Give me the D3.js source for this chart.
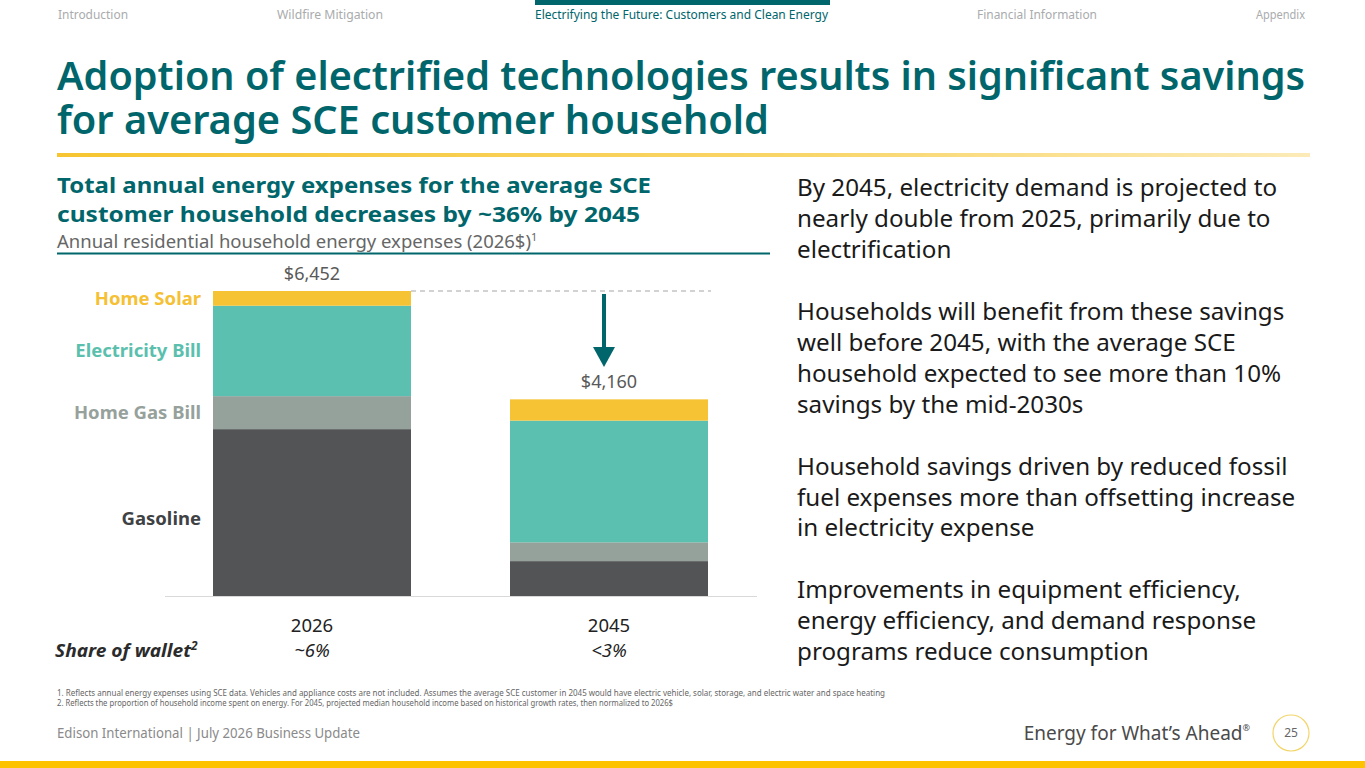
<!DOCTYPE html>
<html><head><meta charset="utf-8">
<script src="https://cdn.jsdelivr.net/npm/d3@7"></script>
<style>
html,body{margin:0;padding:0;background:#fff;}
svg{display:block;font-family:"Noto Sans","Open Sans",sans-serif;}
</style></head>
<body>
<svg id="c" width="1365" height="768"></svg>
<script>
// ---- data ----
const years = ["2026", "2045"];
const categories = ["Gasoline", "Home Gas Bill", "Electricity Bill", "Home Solar"];
const gasoline = [3530, 738];
const homeGas = [698, 398];
const electricity = [1913, 2574];
const homeSolar = [311, 450];
const totals = ["$6,452", "$4,160"];
const shareOfWallet = ["~6%", "<3%"];
const colors = ["#525456", "#95A19B", "#5CC0B0", "#F6C334"];
const labelColors = ["#3F4244", "#96A19C", "#5BBFAE", "#F5C033"];

const navItems = ["Introduction", "Wildfire Mitigation", "Electrifying the Future: Customers and Clean Energy", "Financial Information", "Appendix"];
const paragraphs = [
  ["By 2045, electricity demand is projected to", "nearly double from 2025, primarily due to", "electrification"],
  ["Households will benefit from these savings", "well before 2045, with the average SCE", "household expected to see more than 10%", "savings by the mid-2030s"],
  ["Household savings driven by reduced fossil", "fuel expenses more than offsetting increase", "in electricity expense"],
  ["Improvements in equipment efficiency,", "energy efficiency, and demand response", "programs reduce consumption"]
];

const svg = d3.select("#c");
const teal = "#00666B";

// ---- nav ----
const navX = [58, 277, 535, 977, 1256];
const navW = [70, 106, 293, 120, 49];
navItems.forEach((t, i) => {
  svg.append("text").attr("x", navX[i]).attr("y", 19)
    .attr("font-size", 12).attr("fill", i === 2 ? teal : "#A9ABAD")
    .attr("textLength", navW[i]).attr("lengthAdjust", "spacingAndGlyphs").text(t);
});
svg.append("rect").attr("x", 535).attr("y", 0).attr("width", 295).attr("height", 5).attr("fill", teal);

// ---- title ----
const titleLines = ["Adoption of electrified technologies results in significant savings", "for average SCE customer household"];
const title = svg.append("text").attr("font-size", 40).attr("font-weight", 600).attr("fill", teal);
title.append("tspan").attr("x", 57).attr("y", 90).attr("textLength", 1248).attr("lengthAdjust", "spacingAndGlyphs").text(titleLines[0]);
title.append("tspan").attr("x", 57).attr("y", 134).attr("textLength", 712).attr("lengthAdjust", "spacingAndGlyphs").text(titleLines[1]);

const defs = svg.append("defs");
const g = defs.append("linearGradient").attr("id", "yg").attr("x1", "0").attr("x2", "1");
g.append("stop").attr("offset", "0").attr("stop-color", "#F7C531");
g.append("stop").attr("offset", "0.6").attr("stop-color", "#F9D66A");
g.append("stop").attr("offset", "1").attr("stop-color", "#FCEBB8");
svg.append("rect").attr("x", 57).attr("y", 153).attr("width", 1253).attr("height", 4).attr("fill", "url(#yg)");

// ---- chart subtitle ----
svg.append("text").attr("x", 57).attr("y", 193).attr("font-size", 22).attr("font-weight", 700).attr("fill", teal)
  .attr("textLength", 594).attr("lengthAdjust", "spacingAndGlyphs").text("Total annual energy expenses for the average SCE");
svg.append("text").attr("x", 57).attr("y", 222).attr("font-size", 22).attr("font-weight", 700).attr("fill", teal)
  .attr("textLength", 583).attr("lengthAdjust", "spacingAndGlyphs").text("customer household decreases by ~36% by 2045");
const sub = svg.append("text").attr("x", 57).attr("y", 248).attr("font-size", 18).attr("fill", "#666");
sub.append("tspan").attr("textLength", 474).attr("lengthAdjust", "spacingAndGlyphs").text("Annual residential household energy expenses (2026$)");
sub.append("tspan").attr("font-size", 11).attr("dy", -7).text("1");
svg.append("line").attr("x1", 57).attr("x2", 770).attr("y1", 253.5).attr("y2", 253.5).attr("stroke", teal).attr("stroke-width", 2);

// ---- chart ----
const x = d3.scaleBand().domain(years).range([213, 708]).paddingInner(1 / 3).paddingOuter(0);
const y = d3.scaleLinear().domain([0, 6452]).range([596, 291]);

const rows = years.map((yr, i) => ({year: yr, Gasoline: gasoline[i], "Home Gas Bill": homeGas[i], "Electricity Bill": electricity[i], "Home Solar": homeSolar[i]}));
const stack = d3.stack().keys(categories)(rows);

svg.append("line").attr("x1", 165).attr("x2", 757).attr("y1", 596.5).attr("y2", 596.5).attr("stroke", "#D9D9D9").attr("stroke-width", 1);

stack.forEach((layer, li) => {
  svg.append("g").selectAll("rect").data(layer).join("rect")
    .attr("x", d => x(d.data.year)).attr("width", x.bandwidth())
    .attr("y", d => y(d[1])).attr("height", d => y(d[0]) - y(d[1]))
    .attr("fill", colors[li]);
});

// totals
const topLayer = stack[stack.length - 1];
svg.append("g").selectAll("text").data(topLayer).join("text")
  .attr("x", d => x(d.data.year) + x.bandwidth() / 2).attr("y", d => y(d[1]) - 11)
  .attr("text-anchor", "middle").attr("font-size", 18).attr("fill", "#595959")
  .text((d, i) => totals[i]);

// dashed reference line
svg.append("line").attr("x1", x("2026") + x.bandwidth()).attr("x2", x("2045") + x.bandwidth() + 3)
  .attr("y1", y(topLayer[0][1])).attr("y2", y(topLayer[0][1]))
  .attr("stroke", "#A6A6A6").attr("stroke-dasharray", "5,4").attr("stroke-width", 1.2);

// arrow
const ax = 604;
svg.append("line").attr("x1", ax).attr("x2", ax).attr("y1", 294).attr("y2", 350).attr("stroke", teal).attr("stroke-width", 4);
svg.append("path").attr("d", `M${ax - 11},347 L${ax + 11},347 L${ax},367 Z`).attr("fill", teal);

// category labels (at the 2026 segments)
stack.forEach((layer, li) => {
  const d = layer[0];
  let cy = (y(d[0]) + y(d[1])) / 2;
  if (li === 0) cy += 6;
  svg.append("text").attr("x", 201).attr("y", cy).attr("dy", "0.35em")
    .attr("text-anchor", "end").attr("font-size", 18.5).attr("font-weight", 700)
    .attr("fill", labelColors[li]).text(categories[li]);
});

// year axis
svg.append("g").selectAll("text").data(years).join("text")
  .attr("x", d => x(d) + x.bandwidth() / 2).attr("y", 632)
  .attr("text-anchor", "middle").attr("font-size", 18.5).attr("fill", "#222").text(d => d);
svg.append("g").selectAll("text").data(years).join("text")
  .attr("x", d => x(d) + x.bandwidth() / 2).attr("y", 657)
  .attr("text-anchor", "middle").attr("font-size", 18.5).attr("font-style", "italic").attr("fill", "#222")
  .text((d, i) => shareOfWallet[i]);
const sw = svg.append("text").attr("x", 55).attr("y", 657).attr("font-size", 18.5).attr("font-weight", 700)
  .attr("font-style", "italic").attr("fill", "#2b2b2b");
sw.append("tspan").attr("textLength", 136).attr("lengthAdjust", "spacingAndGlyphs").text("Share of wallet");
sw.append("tspan").attr("font-size", 12).attr("dy", -7).text("2");

// ---- right text ----
let ly = 196;
paragraphs.forEach(p => {
  p.forEach(line => {
    svg.append("text").attr("x", 797).attr("y", ly).attr("font-size", 24.2).attr("fill", "#1a1a1a").text(line);
    ly += 30.95;
  });
  ly += 30.95;
});

// ---- footnotes ----
svg.append("text").attr("x", 57).attr("y", 696).attr("font-size", 8).attr("fill", "#666")
  .attr("textLength", 828).attr("lengthAdjust", "spacingAndGlyphs")
  .text("1.   Reflects annual energy expenses using SCE data. Vehicles and appliance costs are not included. Assumes the average SCE customer in 2045 would have electric vehicle, solar, storage, and electric water and space heating");
svg.append("text").attr("x", 57).attr("y", 706).attr("font-size", 8).attr("fill", "#666")
  .attr("textLength", 616).attr("lengthAdjust", "spacingAndGlyphs")
  .text("2.   Reflects the proportion of household income spent on energy. For 2045, projected median household income based on historical growth rates, then normalized to 2026$");

// ---- footer ----
svg.append("text").attr("x", 57).attr("y", 738).attr("font-size", 14).attr("fill", "#8A8A8A")
  .attr("textLength", 303).attr("lengthAdjust", "spacingAndGlyphs").text("Edison International |  July 2026 Business Update");
const ef = svg.append("text").attr("x", 1250).attr("y", 740).attr("text-anchor", "end").attr("font-size", 19).attr("fill", "#4A4A4A");
ef.append("tspan").text("Energy for What’s Ahead");
ef.append("tspan").attr("font-size", 9).attr("dy", -9).text("®");
svg.append("circle").attr("cx", 1291).attr("cy", 733).attr("r", 18).attr("fill", "none").attr("stroke", "#F2D56A").attr("stroke-width", 1.2);
svg.append("text").attr("x", 1291).attr("y", 733).attr("dy", "0.35em").attr("text-anchor", "middle").attr("font-size", 12).attr("fill", "#666").text("25");
svg.append("rect").attr("x", 0).attr("y", 761).attr("width", 1365).attr("height", 7).attr("fill", "#FDC300");
</script>
</body></html>
